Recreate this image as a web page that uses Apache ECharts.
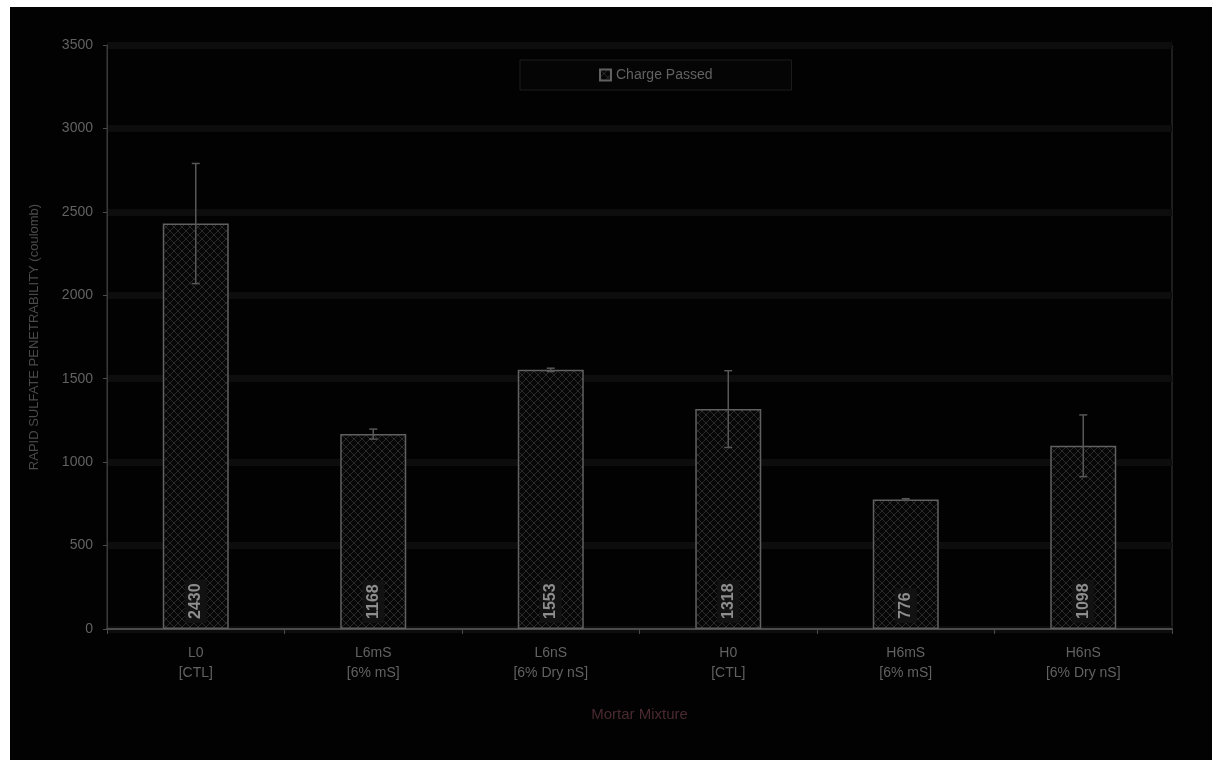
<!DOCTYPE html>
<html><head><meta charset="utf-8">
<script src="https://cdn.jsdelivr.net/npm/echarts@6/dist/echarts.min.js"></script>
<style>
html,body{margin:0;padding:0;background:#fff;}
#c{position:absolute;left:10px;top:7px;width:1202px;height:753px;background:#020202;}
</style></head>
<body><div id="c"></div>
<script>
const categories = ['L0\n[CTL]','L6mS\n[6% mS]','L6nS\n[6% Dry nS]','H0\n[CTL]','H6mS\n[6% mS]','H6nS\n[6% Dry nS]'];
const chargePassed = [2430, 1168, 1553, 1318, 776, 1098];
const errors = [360, 30, 10, 230, 5, 185];
const yTicks = [0, 500, 1000, 1500, 2000, 2500, 3000, 3500];

const FONT = '"Liberation Sans",sans-serif';
const TXT = '#626262';

// crosshatch pattern
const pc = document.createElement('canvas');
pc.width = 8; pc.height = 8;
const g = pc.getContext('2d');
g.fillStyle = '#070707'; g.fillRect(0,0,8,8);
g.strokeStyle = '#2a2a2a'; g.lineWidth = 1;
g.beginPath(); g.moveTo(0,0); g.lineTo(8,8); g.moveTo(8,0); g.lineTo(0,8); g.stroke();

const chart = echarts.init(document.getElementById('c'));
chart.setOption({
  backgroundColor: '#020202',
  animation: false,
  textStyle: {fontFamily: FONT},
  grid: {left: 97, right: 40, top: 38, bottom: 131, show: true, borderColor: '#3a3a3a', borderWidth: 1, backgroundColor: 'transparent'},
  legend: {
    data: [{name: 'Charge Passed', icon: 'rect'}],
    left: 510, top: 53, padding: [8, 79],
    itemWidth: 11, itemHeight: 11,
    borderColor: '#1c1c1c', borderWidth: 1, backgroundColor: '#050505',
    textStyle: {color: TXT, fontSize: 14, fontFamily: FONT}
  },
  xAxis: {
    type: 'category', data: categories,
    name: 'Mortar Mixture', nameLocation: 'middle', nameGap: 78,
    nameTextStyle: {color: '#4a2a30', fontSize: 15, fontFamily: FONT},
    axisLine: {lineStyle: {color: '#4a4a4a', width: 2}},
    axisTick: {show: true, length: 5, lineStyle: {color: '#4a4a4a'}},
    axisLabel: {color: TXT, fontSize: 14, lineHeight: 20, margin: 14, fontFamily: FONT}
  },
  yAxis: {
    type: 'value', min: yTicks[0], max: yTicks[yTicks.length-1], interval: 500,
    name: 'RAPID SULFATE PENETRABILITY (coulomb)', nameLocation: 'middle', nameGap: 66,
    nameTextStyle: {color: '#4a4a4a', fontSize: 13, fontFamily: FONT},
    axisLine: {show: true, lineStyle: {color: '#3a3a3a'}},
    axisTick: {show: true, length: 4, lineStyle: {color: '#4a4a4a'}},
    axisLabel: {color: TXT, fontSize: 14, margin: 14, fontFamily: FONT, formatter: v => String(v)},
    splitLine: {lineStyle: {color: '#0d0d0d', width: 7}}
  },
  series: [
    {
      name: 'Charge Passed', type: 'bar', data: chargePassed, barWidth: 66,
      itemStyle: {color: {image: pc, repeat: 'repeat'}, borderColor: '#606060', borderWidth: 1.5},
      label: {
        show: true, position: 'insideBottom', rotate: 90, distance: 6,
        align: 'left', verticalAlign: 'middle',
        color: '#8e8e8e', fontSize: 16, fontWeight: 'bold', fontFamily: FONT,
        backgroundColor: '#121212', padding: [3, 4]
      },
      z: 2
    },
    {
      name: 'err', type: 'custom', z: 3,
      data: chargePassed.map((v, i) => [i, v - errors[i], v + errors[i]]),
      renderItem: function (params, api) {
        const x = api.value(0);
        const lo = api.coord([x, api.value(1)]);
        const hi = api.coord([x, api.value(2)]);
        const hw = 4;
        const st = {stroke: '#575757', lineWidth: 1.5};
        return {type: 'group', children: [
          {type: 'line', shape: {x1: hi[0], y1: hi[1], x2: lo[0], y2: lo[1]}, style: st},
          {type: 'line', shape: {x1: hi[0]-hw, y1: hi[1], x2: hi[0]+hw, y2: hi[1]}, style: st},
          {type: 'line', shape: {x1: lo[0]-hw, y1: lo[1], x2: lo[0]+hw, y2: lo[1]}, style: st}
        ]};
      }
    }
  ]
});
</script></body></html>
